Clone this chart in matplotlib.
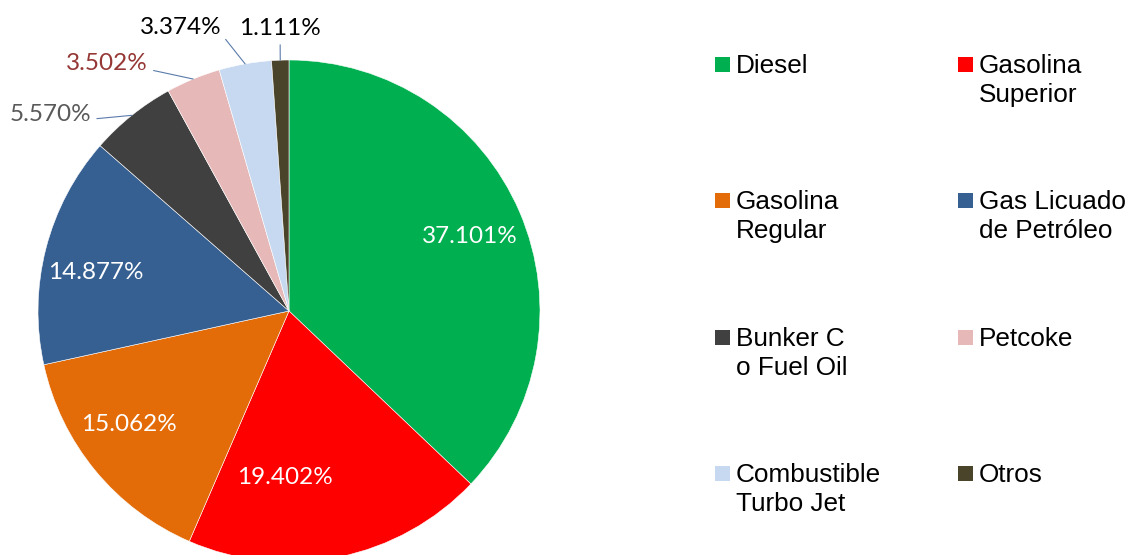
import matplotlib
matplotlib.use("Agg")
import matplotlib.pyplot as plt
import numpy as np
from matplotlib.patches import Rectangle

categories = [
    "Diesel",
    "Gasolina\nSuperior",
    "Gasolina\nRegular",
    "Gas Licuado\nde Petróleo",
    "Bunker C\no Fuel Oil",
    "Petcoke",
    "Combustible\nTurbo Jet",
    "Otros",
]
shares = [37.101, 19.402, 15.062, 14.877, 5.570, 3.502, 3.374, 1.111]
colors = ["#00B050", "#FF0000", "#E36C09", "#376092",
          "#404040", "#E6B9B8", "#C6D9F1", "#4A452A"]

# label layout: (distance from centre in radii, angular shift from wedge middle in deg)
label_dist = [0.78, 0.665, 0.78, 0.785, 1.23, 1.225, 1.21, 1.125]
label_shift = [-1.0, -12.9, -4.1, 3.0, 11.8, 13.8, 10.9, -0.2]
label_colors = ["white", "white", "white", "white",
                "#595959", "#953735", "black", "black"]
leader_relpos = [None, None, None, None, (1.0, 0.3), (1.0, 0.2), (1.0, 0.2), (0.5, 0.0)]

W, H = 1129, 555
fig = plt.figure(figsize=(W / 100, H / 100), dpi=100)

# pie centre (289, 311) px, radius 251 px
cx, cy, r = 289, 311, 251
ax = fig.add_axes([(cx - r) / W, (H - cy - r) / H, 2 * r / W, 2 * r / H])
wedges, _ = ax.pie(shares, colors=colors, startangle=90, counterclock=False,
                   radius=1.0, wedgeprops=dict(linewidth=0.4, edgecolor="white"))
ax.set_xlim(-1, 1)
ax.set_ylim(-1, 1)
ax.set_aspect("equal")
ax.axis("off")
for w in wedges:
    w.set_clip_on(False)

for i, w in enumerate(wedges):
    mid = np.deg2rad((w.theta1 + w.theta2) / 2)
    ang = mid + np.deg2rad(label_shift[i])
    tx, ty = label_dist[i] * np.cos(ang), label_dist[i] * np.sin(ang)
    txt = f"{shares[i]:.3f}%"
    if leader_relpos[i] is None:
        ax.text(tx, ty, txt, ha="center", va="center", color=label_colors[i],
                fontsize=17.5, family="Lato")
    else:
        ax.annotate(txt, xy=(np.cos(mid), np.sin(mid)), xytext=(tx, ty),
                    ha="center", va="center", color=label_colors[i],
                    fontsize=17.5, family="Lato", annotation_clip=False,
                    arrowprops=dict(arrowstyle="-", color="#5B7BAB", lw=0.8,
                                    shrinkA=2, shrinkB=0,
                                    relpos=leader_relpos[i]))

# legend: 2 columns, row-major order
col_x = [715, 958]
row_y = [57, 193, 330, 466]
sq = 15
for i, (lab, col) in enumerate(zip(categories, colors)):
    x0 = col_x[i % 2]
    y0 = row_y[i // 2]
    fig.patches.append(Rectangle((x0 / W, 1 - (y0 + sq) / H), sq / W, sq / H,
                                 transform=fig.transFigure, facecolor=col,
                                 edgecolor="none"))
    fig.text((x0 + 21) / W, 1 - (y0 - 3) / H, lab, ha="left", va="top",
             fontsize=18.8, family="Liberation Sans", color="black",
             linespacing=1.28)

fig.savefig("out.png", dpi=100)
